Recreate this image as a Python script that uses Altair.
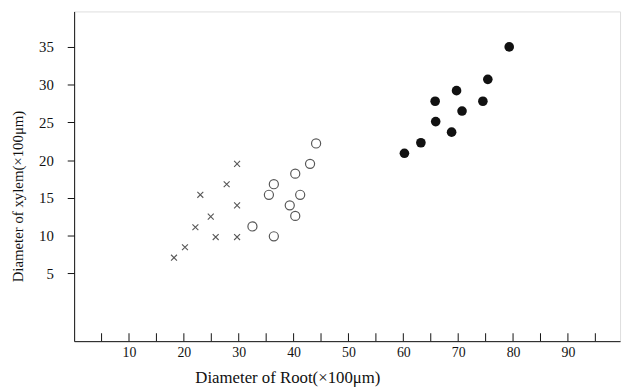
import altair as alt
import pandas as pd

# Data
cross_x = [29.7, 27.8, 23.0, 29.7, 24.9, 22.1, 25.8, 29.7, 20.2, 18.2]
cross_y = [19.5, 16.8, 15.4, 14.0, 12.5, 11.1, 9.8, 9.8, 8.45, 7.06]

open_x = [44.1, 43.0, 40.3, 36.4, 35.5, 41.2, 39.3, 40.3, 32.5, 36.4]
open_y = [22.2, 19.5, 18.2, 16.8, 15.4, 15.4, 14.0, 12.6, 11.2, 9.9]

filled_x = [79.3, 75.4, 69.7, 65.8, 74.5, 70.7, 65.9, 68.8, 63.2, 60.2]
filled_y = [35.0, 30.7, 29.2, 27.8, 27.8, 26.5, 25.1, 23.7, 22.3, 20.9]

x_tick_values = [5, 10, 15, 20, 25, 30, 35, 40, 45, 50, 55, 60, 65, 70, 75, 80, 85, 90, 95]
x_label_values = [10, 20, 30, 40, 50, 60, 70, 80, 90]
y_label_values = [5, 10, 15, 20, 25, 30, 35]

x_title = "Diameter of Root(×100μm)"
y_title = "Diameter of xylem(×100μm)"

rows = []
for gx, gy, g in [(cross_x, cross_y, "cross"), (open_x, open_y, "open"), (filled_x, filled_y, "filled")]:
    for a, b in zip(gx, gy):
        rows.append({"x": a, "y": b, "g": g})
df = pd.DataFrame(rows)
ticks_df = pd.DataFrame({"t": x_tick_values})

FONT = "Liberation Serif"
INK = "#111111"
W, H = 553, 334

xscale = alt.Scale(domain=[0, 99.5], nice=False, zero=False)
yscale = alt.Scale(domain=[-4, 39.7], nice=False, zero=False)

xaxis = alt.Axis(
    values=x_label_values, ticks=False, grid=False, domain=True,
    domainColor=INK, domainWidth=1, labelFont=FONT, labelFontSize=14,
    labelColor=INK, labelPadding=5, title=x_title, titleFont=FONT,
    titleFontSize=17, titleFontWeight="normal", titleColor=INK,
    titleX=216, titleY=42, titleBaseline="alphabetic", titleAlign="center",
)
yaxis = alt.Axis(
    values=y_label_values, ticks=True, tickSize=7, tickColor=INK, grid=False,
    domain=True, domainColor=INK, domainWidth=1, labelFont=FONT,
    labelFontSize=15, labelColor=INK, labelPadding=14, title=y_title,
    titleFont=FONT, titleFontSize=15, titleFontWeight="normal",
    titleColor=INK, titleAngle=270, titleX=-57, titleY=187,
    titleBaseline="middle", titleAlign="center",
)

base = alt.Chart(df)

crosses = base.transform_filter(alt.datum.g == "cross").mark_point(
    shape="M-1,-1L1,1M-1,1L1,-1", size=36, strokeWidth=1.1, color=INK, filled=False
).encode(x=alt.X("x:Q", scale=xscale, axis=xaxis), y=alt.Y("y:Q", scale=yscale, axis=yaxis))

opens = base.transform_filter(alt.datum.g == "open").mark_point(
    shape="circle", size=85, strokeWidth=1.2, color=INK, filled=False
).encode(x=alt.X("x:Q", scale=xscale), y=alt.Y("y:Q", scale=yscale))

filleds = base.transform_filter(alt.datum.g == "filled").mark_point(
    shape="circle", size=95, color=INK, filled=True, opacity=1
).encode(x=alt.X("x:Q", scale=xscale), y=alt.Y("y:Q", scale=yscale))

xticks = alt.Chart(ticks_df).mark_rule(color=INK, strokeWidth=1).encode(
    x=alt.X("t:Q", scale=xscale), y=alt.value(H), y2=alt.value(H - 8)
)

chart = alt.layer(xticks, crosses, opens, filleds).properties(
    width=W, height=H,
    autosize=alt.AutoSizeParams(type="none"),
    padding={"left": 67, "top": 1, "right": 3, "bottom": 48},
).configure_view(stroke=None).configure(background="white")

chart.save("out.html", embed_options={"renderer": "svg", "actions": False})
